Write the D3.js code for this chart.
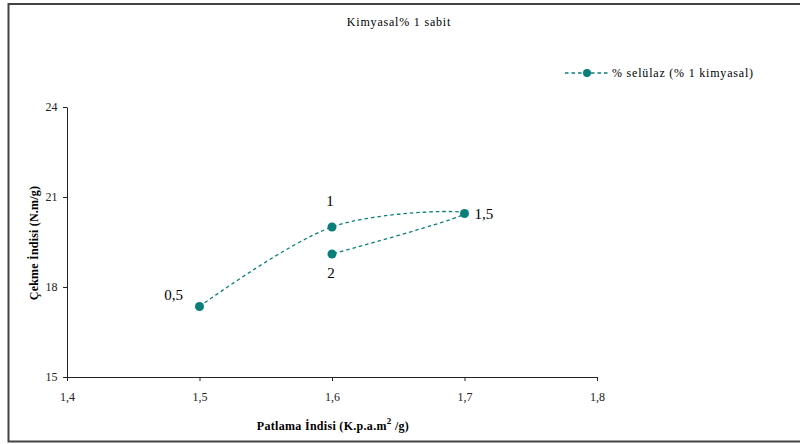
<!DOCTYPE html>
<html>
<head>
<meta charset="utf-8">
<script src="https://cdn.jsdelivr.net/npm/d3@7"></script>
<style>
  body { margin: 0; background: #fff; }
  text { font-family: "Liberation Serif", "Times New Roman", serif; }
</style>
</head>
<body>
<div id="chart"></div>
<script>
// data
const labels = ["0,5", "1", "1,5", "2"];
const patlama = [1.5, 1.6, 1.7, 1.6];
const cekme = [17.35, 20.0, 20.45, 19.1];
const xTicks = [1.4, 1.5, 1.6, 1.7, 1.8];
const yTicks = [15, 18, 21, 24];

const width = 800, height = 444;
const teal = "#0a7f7a";

const svg = d3.select("#chart").append("svg")
    .attr("width", width)
    .attr("height", height);

// outer frame (top, left, bottom)
svg.append("path")
    .attr("fill", "none")
    .attr("stroke", "#444")
    .attr("stroke-width", 2)
    .attr("d", "M800,4H8.5V441.5H800");

const x = d3.scaleLinear().domain([1.4, 1.8]).range([67, 597]);
const y = d3.scaleLinear().domain([15, 24]).range([377, 107]);

const fmt = d => String(d).replace(".", ",");

const xAxis = svg.append("g")
    .attr("transform", `translate(0,${y(15)})`)
    .call(d3.axisBottom(x).tickValues(xTicks).tickSize(4).tickSizeOuter(0).tickFormat(fmt));
xAxis.selectAll("text").attr("font-size", 12).attr("dy", "1.4em");

const yAxis = svg.append("g")
    .attr("transform", `translate(${x(1.4)},0)`)
    .call(d3.axisLeft(y).tickValues(yTicks).tickSize(4).tickSizeOuter(0));
yAxis.selectAll("text").attr("font-size", 12).attr("dx", "-0.2em");

svg.selectAll(".domain, .tick line").attr("stroke", "#222");
svg.selectAll(".tick text").attr("fill", "#222");

// title
svg.append("text")
    .attr("x", 399).attr("y", 26)
    .attr("text-anchor", "middle")
    .attr("font-size", 12)
    .attr("letter-spacing", 0.8)
    .text("Kimyasal% 1 sabit");

// axis titles
svg.append("text")
    .attr("x", 333).attr("y", 430)
    .attr("text-anchor", "middle")
    .attr("font-size", 12)
    .attr("font-weight", "bold")
    .attr("letter-spacing", 0.3)
    .html('Patlama İndisi (K.p.a.m<tspan dy="-6" font-size="9">2</tspan><tspan dy="6"> /g)</tspan>');

svg.append("text")
    .attr("transform", "translate(38,243) rotate(-90)")
    .attr("text-anchor", "middle")
    .attr("font-size", 12)
    .attr("font-weight", "bold")
    .attr("letter-spacing", 0.2)
    .text("Çekme İndisi (N.m/g)");

// series
const pts = patlama.map((p, i) => ({x: p, y: cekme[i], label: labels[i]}));

const line = d3.line()
    .x(d => x(d.x))
    .y(d => y(d.y))
    .curve(d3.curveCatmullRom.alpha(0));

svg.append("path")
    .datum(pts)
    .attr("fill", "none")
    .attr("stroke", teal)
    .attr("stroke-width", 1.3)
    .attr("stroke-dasharray", "3.5,3")
    .attr("d", line);

svg.selectAll(".pt")
    .data(pts)
    .join("circle")
    .attr("class", "pt")
    .attr("cx", d => x(d.x))
    .attr("cy", d => y(d.y))
    .attr("r", 4.5)
    .attr("fill", teal);

// point labels
const labelPos = [
    {dx: -26, dy: -7, anchor: "middle"},
    {dx: -2, dy: -21, anchor: "middle"},
    {dx: 10, dy: 5, anchor: "start"},
    {dx: -1, dy: 24, anchor: "middle"}
];
svg.selectAll(".lbl")
    .data(pts)
    .join("text")
    .attr("class", "lbl")
    .attr("x", (d, i) => x(d.x) + labelPos[i].dx)
    .attr("y", (d, i) => y(d.y) + labelPos[i].dy)
    .attr("text-anchor", (d, i) => labelPos[i].anchor)
    .attr("font-size", 15)
    .text(d => d.label);

// legend
const lg = svg.append("g").attr("transform", "translate(565,73)");
lg.append("line")
    .attr("x1", 0).attr("x2", 44)
    .attr("stroke", teal)
    .attr("stroke-width", 1.3)
    .attr("stroke-dasharray", "3.5,3");
lg.append("circle").attr("cx", 22).attr("r", 4).attr("fill", teal);
lg.append("text")
    .attr("x", 47).attr("y", 4)
    .attr("font-size", 12)
    .attr("letter-spacing", 0.8)
    .text("% selülaz (% 1 kimyasal)");
</script>
</body>
</html>
